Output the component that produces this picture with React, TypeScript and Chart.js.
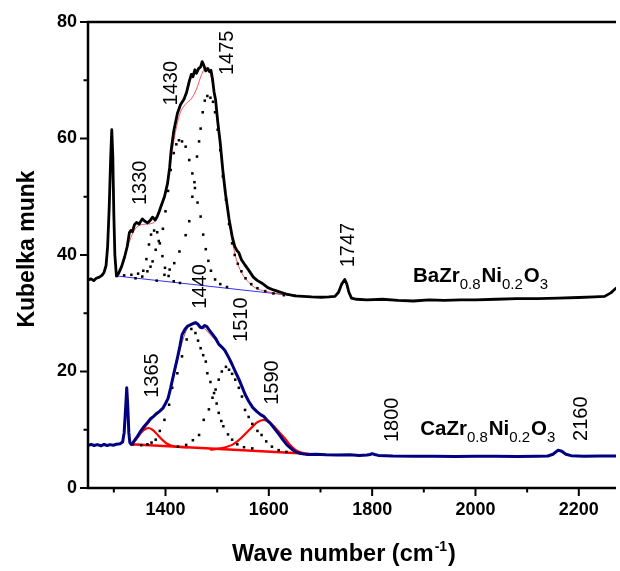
import { useEffect, useRef } from "react";
import { Chart, registerables } from "chart.js";

Chart.register(...registerables);

type Pt = [number, number];

// ---- BaZr0.8Ni0.2O3 ----
const baSpectrum: Pt[] = [
  [1250, 35.7], [1256, 35.9], [1261, 35.6], [1266, 36.0], [1272, 36.2], [1277, 36.5], [1281, 37.0],
  [1285, 38.2], [1288, 41.5], [1291, 48], [1294, 57], [1296, 61.5], [1298, 57], [1300, 47], [1302, 40],
  [1305, 36.4], [1309, 36.8], [1315, 38], [1321, 39.7], [1326, 41.5], [1330, 43.8], [1333, 44.2],
  [1336, 44.0], [1340, 45.2], [1344, 45.6], [1349, 45.3], [1355, 46.2], [1360, 45.8], [1365, 45.5],
  [1370, 45.9], [1375, 46.5], [1380, 46.0], [1384, 46.6], [1388, 47.5], [1391, 48.3], [1398, 50.0],
  [1404, 52.3], [1408, 55], [1411, 58], [1416, 61.3], [1423, 64.3], [1429, 65.8], [1436, 66.8],
  [1441, 68.0], [1446, 69.8], [1450, 71.0], [1453, 70.6], [1457, 71.8], [1460, 71.2], [1464, 72.0],
  [1468, 72.3], [1471, 73.2], [1474, 72.6], [1478, 71.6], [1482, 72.0], [1485, 71.5], [1488, 71.7],
  [1491, 70.2], [1494, 68], [1497, 66.6], [1501, 63], [1506, 59.2], [1511, 54.5], [1516, 50.6],
  [1523, 46.2], [1529, 43.2], [1534, 41.5], [1538, 40.8], [1542, 40.4], [1547, 39.2], [1553, 38.4],
  [1561, 37.4], [1570, 36.2], [1578, 35.6], [1586, 35.2], [1598, 34.4], [1609, 34.0], [1619, 33.7],
  [1634, 33.3], [1651, 33.0], [1666, 32.9], [1683, 32.8], [1701, 32.75], [1716, 32.8], [1728, 32.9],
  [1735, 33.6], [1741, 35.0], [1747, 35.8], [1751, 35.0], [1755, 33.6], [1760, 32.6], [1770, 32.4],
  [1790, 32.3], [1820, 32.4], [1850, 32.2], [1880, 32.1], [1910, 32.3], [1940, 32.2], [1970, 32.3],
  [2000, 32.3], [2040, 32.4], [2080, 32.5], [2120, 32.5], [2160, 32.6], [2200, 32.7], [2230, 32.8],
  [2250, 32.9], [2262, 33.5], [2272, 34.3],
];
const baBaseline: Pt[] = [[1305, 36.4], [1650, 33.0]];
const baFit: Pt[] = [
  [1305, 36.4], [1317, 38.5], [1327, 41.5], [1337, 43.8], [1347, 45.0], [1363, 45.3], [1378, 45.6],
  [1388, 47.2], [1399, 50.5], [1409, 55.5], [1419, 61], [1429, 64.5], [1440, 66], [1450, 66.8],
  [1460, 68.5], [1470, 71], [1478, 72.2], [1484, 71.8], [1491, 69.5], [1498, 65.5], [1506, 59],
  [1517, 50.5], [1527, 43.5], [1537, 39.3], [1547, 37], [1558, 35.6], [1573, 34.4], [1588, 33.9],
  [1609, 33.5], [1629, 33.2], [1650, 33.0],
];
const baBand1330: Pt[] = [
  [1306, 36.4], [1320, 36.5], [1334, 36.6], [1347, 36.8], [1357, 37.3], [1363, 39.3], [1368, 41.8],
  [1372, 43.5], [1378, 44.2], [1384, 43.9], [1389, 42], [1394, 39.8], [1399, 37.8], [1406, 36.4],
  [1416, 35.5], [1428, 35.2],
];
const baBand1430: Pt[] = [
  [1342, 36], [1355, 36.3], [1365, 37.2], [1371, 38], [1375, 38.9], [1381, 40.9], [1387, 42.4],
  [1395, 44.5], [1400, 47.5], [1405, 51], [1410, 54.6], [1416, 57.5], [1421, 59], [1426, 59.7],
  [1432, 59.5], [1439, 58.6], [1446, 56.3], [1452, 54], [1457, 51.5], [1462, 49], [1468, 46.6],
  [1473, 43.5], [1478, 41], [1483, 39], [1488, 37.3], [1496, 35.8], [1506, 35], [1519, 34.5],
];
const baBand1475: Pt[] = [
  [1383, 35.6], [1398, 36.6], [1408, 37.5], [1417, 38.6], [1427, 40.6], [1439, 43.4], [1446, 45.8],
  [1452, 50], [1456, 52.5], [1461, 56.9], [1465, 59.5], [1468, 61.7], [1472, 64.5], [1476, 66.5],
  [1481, 67.3], [1487, 67.0], [1492, 66.3], [1496, 64.5], [1501, 61.5], [1506, 58], [1511, 53.5],
  [1517, 49.5], [1523, 45.3], [1529, 42], [1534, 40], [1540, 38.5], [1547, 37.2], [1555, 36],
  [1566, 35], [1578, 34.3], [1593, 33.8], [1609, 33.4], [1629, 33.1], [1650, 33],
];

// ---- CaZr0.8Ni0.2O3 ----
const caSpectrum: Pt[] = [
  [1250, 7.3], [1256, 7.5], [1262, 7.3], [1268, 7.45], [1275, 7.25], [1281, 7.5], [1287, 7.3],
  [1293, 7.45], [1299, 7.35], [1305, 7.5], [1312, 7.6], [1317, 7.9], [1320, 9.5], [1323, 14],
  [1325, 17.2], [1327, 14], [1329, 9.5], [1331, 7.8], [1334, 7.5], [1338, 7.9], [1342, 8.4],
  [1346, 8.9], [1353, 9.9], [1359, 10.6], [1365, 11.2], [1371, 11.9], [1377, 12.3], [1383, 12.8],
  [1389, 13.2], [1395, 13.7], [1400, 14.5], [1405, 15.4], [1410, 17.2], [1416, 19.6], [1423, 22.3],
  [1428, 24.4], [1432, 26.3], [1438, 27.3], [1443, 27.8], [1448, 28.0], [1453, 28.2], [1458, 28.4],
  [1463, 28.1], [1467, 27.6], [1471, 27.5], [1476, 27.9], [1480, 27.7], [1484, 27.2], [1490, 26.5],
  [1497, 25.7], [1503, 24.7], [1509, 24.2], [1515, 23.6], [1523, 22.3], [1529, 21.2], [1535, 20.0],
  [1542, 18.7], [1548, 17.4], [1554, 16.1], [1561, 14.9], [1569, 13.8], [1577, 13.1], [1584, 12.6],
  [1590, 12.3], [1596, 11.7], [1603, 11.1], [1611, 10.2], [1619, 9.3], [1627, 8.3], [1635, 7.4],
  [1644, 6.7], [1652, 6.2], [1662, 5.9], [1675, 5.75], [1691, 5.8], [1711, 5.7], [1732, 5.65],
  [1757, 5.7], [1775, 5.6], [1790, 5.65], [1796, 5.75], [1800, 5.9], [1805, 5.75], [1812, 5.6],
  [1840, 5.5], [1880, 5.45], [1920, 5.45], [1960, 5.4], [2000, 5.45], [2040, 5.45], [2080, 5.4],
  [2120, 5.45], [2140, 5.5], [2150, 5.8], [2160, 6.5], [2167, 6.3], [2175, 5.8], [2185, 5.55],
  [2210, 5.45], [2240, 5.5], [2272, 5.5],
];
const caBaseline: Pt[] = [[1333, 7.5], [1676, 5.9]];
const caFit: Pt[] = [
  [1333, 7.5], [1347, 8.6], [1363, 10.6], [1378, 12.2], [1394, 13.6], [1404, 15.2], [1414, 18.4],
  [1424, 22.3], [1435, 25.8], [1445, 27.8], [1455, 28.2], [1465, 28.0], [1476, 27.3], [1486, 26.4],
  [1496, 25.4], [1506, 24.3], [1517, 23.2], [1527, 21.6], [1537, 19.6], [1547, 17.5], [1558, 15.5],
  [1568, 14], [1578, 13], [1588, 12.3], [1599, 11.5], [1609, 10.5], [1619, 9.3], [1629, 8.1],
  [1640, 7.1], [1650, 6.5], [1660, 6.1], [1670, 5.95],
];
const caBand1365: Pt[] = [
  [1333, 7.5], [1338, 7.8], [1344, 8.5], [1351, 9.4], [1358, 9.95], [1367, 10.3], [1374, 10.05],
  [1381, 9.5], [1388, 8.8], [1396, 8.1], [1404, 7.55], [1414, 7.2], [1427, 7.05], [1442, 6.97],
];
const caBand1590: Pt[] = [
  [1488, 6.6], [1503, 6.75], [1516, 7.0], [1529, 7.4], [1539, 8.0], [1548, 8.7], [1558, 9.6],
  [1568, 10.5], [1578, 11.3], [1590, 11.7], [1601, 11.3], [1612, 10.4], [1621, 9.5], [1632, 8.4],
  [1640, 7.5], [1648, 6.8], [1656, 6.3], [1666, 6.0],
];
const caBand1440: Pt[] = [
  [1337, 7.5], [1353, 7.35], [1365, 7.5], [1373, 7.8], [1381, 8.3], [1389, 9.8], [1398, 11.7],
  [1407, 14.3], [1413, 17.2], [1423, 19.7], [1432, 22.6], [1441, 25.5], [1450, 27.3], [1458, 26.6],
  [1463, 25.3], [1468, 24], [1473, 22.8], [1478, 21.7], [1481, 19.7], [1487, 18.2], [1494, 16.3],
  [1499, 14.5], [1503, 12.9], [1508, 11.5], [1512, 10.6], [1521, 9.2], [1529, 8.3], [1539, 7.5],
  [1552, 7.0], [1568, 6.8],
];
const caBand1510: Pt[] = [
  [1424, 7.1], [1440, 7.4], [1453, 8.2], [1465, 9.1], [1474, 11.7], [1484, 13.5], [1491, 15.5],
  [1497, 16.9], [1503, 18.6], [1509, 20], [1517, 20.8], [1523, 20.3], [1529, 19.6], [1535, 18.6],
  [1542, 17.2], [1548, 15.7], [1554, 13.4], [1561, 12.2], [1568, 11], [1578, 9.8], [1586, 9.1],
  [1595, 8], [1606, 7.1], [1619, 6.5], [1634, 6.2],
];

// ---- axes ----
const xRange = [1250, 2272];
const yRange = [0, 80];
const xTickLabels = [1400, 1600, 1800, 2000, 2200];
const xMinorTicks = [1300, 1500, 1700, 1900, 2100];
const yTickLabels = [0, 20, 40, 60, 80];
const yMinorTicks = [10, 30, 50, 70];

// band assignments written beside the curves: text, wavenumber, KM value
const bandLabels: [string, number, number][] = [
  ["1330", 1352, 52.4],
  ["1430", 1411, 69.5],
  ["1475", 1520, 74.7],
  ["1747", 1755, 41.7],
  ["1440", 1467, 34.6],
  ["1510", 1547, 28.9],
  ["1365", 1375, 19.3],
  ["1590", 1608, 18.1],
  ["1800", 1840, 11.7],
  ["2160", 2205, 11.9],
];

// sample names: [text, isSubscript] pieces, anchored at wavenumber / KM value
const sampleNames: { parts: [string, boolean][]; x: number; y: number }[] = [
  { parts: [["BaZr", false], ["0.8", true], ["Ni", false], ["0.2", true], ["O", false], ["3", true]], x: 1879, y: 35.3 },
  { parts: [["CaZr", false], ["0.8", true], ["Ni", false], ["0.2", true], ["O", false], ["3", true]], x: 1893, y: 9.1 },
];

const FONT = "'Liberation Sans', Arial, Helvetica, sans-serif";

const toXY = (pts: Pt[]) => pts.map(([x, y]) => ({ x, y }));

const lineSet = (pts: Pt[], color: string, width: number, smooth = false) => ({
  data: toXY(pts),
  showLine: true,
  borderColor: color,
  backgroundColor: color,
  borderWidth: width,
  pointRadius: 0,
  fill: false,
  tension: 0,
  cubicInterpolationMode: smooth ? "monotone" : "default",
  borderJoinStyle: "round",
  borderCapStyle: "round",
});

const dotSet = (pts: Pt[]) => ({
  data: toXY(pts),
  showLine: false,
  pointRadius: 1.8,
  pointStyle: "rect",
  backgroundColor: "#000",
  borderWidth: 0,
});

const decorations = {
  id: "decorations",
  afterDraw(chart: any) {
    const { ctx, chartArea, scales } = chart;
    const { left: L, right: R, top: T, bottom: B } = chartArea;
    const xs = scales.x;
    const ys = scales.y;
    ctx.save();
    ctx.strokeStyle = "#000";
    ctx.fillStyle = "#000";
    ctx.lineCap = "butt";

    // frame: left, bottom, top
    ctx.lineWidth = 2.5;
    ctx.beginPath();
    ctx.moveTo(L, T - 1.25);
    ctx.lineTo(L, B + 1.25);
    ctx.moveTo(L - 1.25, B);
    ctx.lineTo(R, B);
    ctx.moveTo(L - 1.25, T);
    ctx.lineTo(R, T);
    ctx.stroke();

    // tick marks
    ctx.lineWidth = 2;
    ctx.beginPath();
    xTickLabels.forEach((v) => {
      const p = xs.getPixelForValue(v);
      ctx.moveTo(p, B);
      ctx.lineTo(p, B + 8);
    });
    xMinorTicks.forEach((v) => {
      const p = xs.getPixelForValue(v);
      ctx.moveTo(p, B);
      ctx.lineTo(p, B + 4.5);
    });
    yTickLabels.forEach((v) => {
      const p = ys.getPixelForValue(v);
      ctx.moveTo(L, p);
      ctx.lineTo(L - 8, p);
    });
    yMinorTicks.forEach((v) => {
      const p = ys.getPixelForValue(v);
      ctx.moveTo(L, p);
      ctx.lineTo(L - 4.5, p);
    });
    ctx.stroke();

    // band labels, rotated
    ctx.font = `20px ${FONT}`;
    ctx.textAlign = "center";
    ctx.textBaseline = "middle";
    bandLabels.forEach(([t, x, y]) => {
      ctx.save();
      ctx.translate(xs.getPixelForValue(x), ys.getPixelForValue(y));
      ctx.rotate(-Math.PI / 2);
      ctx.fillText(t, 0, 0);
      ctx.restore();
    });

    // sample names with subscripts
    ctx.textAlign = "left";
    ctx.textBaseline = "alphabetic";
    sampleNames.forEach(({ parts, x, y }) => {
      let px = xs.getPixelForValue(x);
      const py = ys.getPixelForValue(y);
      parts.forEach(([t, sub]) => {
        ctx.font = sub ? `15px ${FONT}` : `bold 20.5px ${FONT}`;
        ctx.fillText(t, px, sub ? py + 7 : py);
        px += ctx.measureText(t).width + (sub ? 1 : 0);
      });
    });

    // axis titles
    ctx.font = `bold 23px ${FONT}`;
    ctx.textAlign = "center";
    ctx.textBaseline = "middle";
    ctx.save();
    ctx.translate(28, 249);
    ctx.rotate(-Math.PI / 2);
    ctx.fillText("Kubelka munk", 0, 0);
    ctx.restore();

    const main = "Wave number (cm";
    const sup = "-1";
    const close = ")";
    ctx.font = `bold 23.5px ${FONT}`;
    const w1 = ctx.measureText(main).width;
    const w3 = ctx.measureText(close).width;
    ctx.font = `bold 14px ${FONT}`;
    const w2 = ctx.measureText(sup).width;
    let tx = (L + R) / 2 - 9 - (w1 + w2 + w3) / 2;
    const ty = 561;
    ctx.textAlign = "left";
    ctx.textBaseline = "alphabetic";
    ctx.font = `bold 23.5px ${FONT}`;
    ctx.fillText(main, tx, ty);
    tx += w1;
    ctx.font = `bold 14px ${FONT}`;
    ctx.fillText(sup, tx + 1, ty - 10);
    tx += w2 + 2;
    ctx.font = `bold 23.5px ${FONT}`;
    ctx.fillText(close, tx, ty);
    ctx.restore();
  },
};

export default function App() {
  const canvasRef = useRef<HTMLCanvasElement | null>(null);

  useEffect(() => {
    const canvas = canvasRef.current;
    if (!canvas) return;
    const chart = new Chart(canvas, {
      type: "scatter",
      data: {
        datasets: [
          lineSet(baSpectrum, "#000000", 2.8),
          lineSet(caSpectrum, "#000080", 3),
          dotSet(baBand1330),
          dotSet(baBand1430),
          dotSet(baBand1475),
          dotSet(caBand1440),
          dotSet(caBand1510),
          lineSet(caBand1365, "#ff0000", 2.2, true),
          lineSet(caBand1590, "#ff0000", 2.2, true),
          lineSet(caBaseline, "#ff0000", 2.5),
          lineSet(baFit, "#ff4040", 0.9, true),
          lineSet(caFit, "#b04040", 0.9, true),
          lineSet(baBaseline, "#3030ff", 1),
        ] as any,
      },
      options: {
        responsive: false,
        animation: false,
        devicePixelRatio: 1,
        events: [],
        layout: { padding: { top: 22, right: 0, bottom: 0, left: 0 } },
        plugins: { legend: { display: false }, tooltip: { enabled: false } },
        scales: {
          x: {
            type: "linear",
            min: xRange[0],
            max: xRange[1],
            grid: { display: false, drawTicks: false },
            border: { display: false },
            afterFit: (s: any) => {
              s.height = 83;
            },
            afterBuildTicks: (s: any) => {
              s.ticks = xTickLabels.map((value) => ({ value }));
            },
            ticks: {
              color: "#000",
              padding: 11,
              maxRotation: 0,
              autoSkip: false,
              callback: (v: any) => String(v),
              font: { family: FONT, size: 18, weight: "bold" },
            },
          },
          y: {
            type: "linear",
            min: yRange[0],
            max: yRange[1],
            grid: { display: false, drawTicks: false },
            border: { display: false },
            afterFit: (s: any) => {
              s.width = 88;
            },
            afterBuildTicks: (s: any) => {
              s.ticks = yTickLabels.map((value) => ({ value }));
            },
            ticks: {
              color: "#000",
              padding: 11,
              autoSkip: false,
              callback: (v: any) => String(v),
              font: { family: FONT, size: 18, weight: "bold" },
            },
          },
        },
      } as any,
      plugins: [decorations],
    });
    return () => chart.destroy();
  }, []);

  return (
    <div style={{ position: "absolute", left: 0, top: 0, width: 620, height: 571, overflow: "hidden", background: "#fff" }}>
      <canvas ref={canvasRef} width={620} height={571} style={{ display: "block" }} />
    </div>
  );
}
